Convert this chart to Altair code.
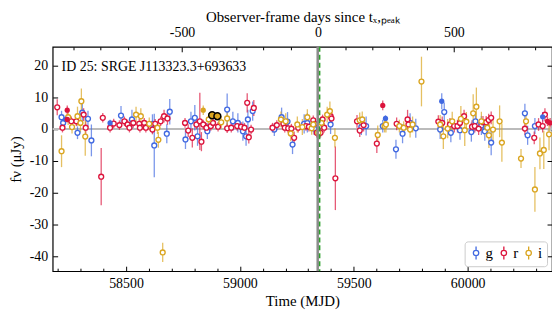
import altair as alt
import pandas as pd

FONT = "Liberation Serif"

# ---------------- data ----------------
g_mjd  = [58217, 58224, 58287, 58308, 58333, 58348, 58478, 58526, 58616, 58624, 58679, 58692,
          58761, 58785, 58802, 58814, 58857, 58944, 58969, 58991, 59013, 59027, 59035, 59056,
          59151, 59183, 59209, 59231, 59282, 59296, 59326, 59398, 59533, 59554, 59627, 59685,
          59714, 59747, 59772, 59879, 59897, 59926, 59966, 60016, 60034, 60060, 60075, 60103,
          60251, 60263, 60295]
g_flux = [3.7, 1.9, -1.2, 5.1, 3.2, -3.6, 4.2, 3.0, 1.6, -5.2, -1.5, 5.4,
          -3.3, 2.4, 3.5, -2.3, -0.7, 6.1, 2.4, 1.9, -0.7, -2.3, 3.0, 5.6,
          -0.2, 3.7, 2.3, -4.9, 1.6, 1.9, 0.1, 1.4, 0.6, 0.9, 0.9, -6.4,
          -1.5, 1.9, 0.2, -0.2, 5.3, -1.2, -0.4, -1.0, 2.4, 1.1, -0.7, -4.3,
          4.9, -2.0, 0.9]
g_err  = [2, 2, 2, 3, 2.5, 5, 3, 3, 3, 10, 3, 4,
          3, 3, 4, 3, 2.5, 5, 3, 3, 3, 3, 3, 3,
          2, 3, 3, 3, 3, 3, 2, 3, 2.5, 3, 2, 3,
          3, 3, 3, 3, 3, 3, 3, 3, 3, 3, 3, 4,
          3, 3, 2.5]

r_mjd  = [58198, 58221, 58260, 58282, 58314, 58323, 58391, 58398, 58430, 58446, 58471, 58493,
          58507, 58515, 58532, 58558, 58561, 58580, 58587, 58616, 58628, 58652, 58667, 58682,
          58759, 58773, 58791, 58809, 58824, 58831, 58839, 58853, 58872, 58882, 58904, 58944,
          58962, 58988, 59005, 59020, 59032, 59039, 59049, 59061, 59143, 59162, 59191, 59197,
          59212, 59226, 59238, 59256, 59290, 59303, 59322, 59329, 59337, 59354, 59363, 59370,
          59398, 59402, 59419, 59514, 59526, 59543, 59601, 59688, 59736, 59740, 59871, 59888,
          59922, 59941, 59955, 59966, 59984, 60019, 60031, 60048, 60067, 60081, 60092, 60103,
          60251, 60292, 60311, 60329, 60339]
r_flux = [6.8, 0.4, 2.4, 2.4, 4.5, 0.4, -15.0, 3.5, 0.4, 1.7, 1.2, 2.4,
          1.4, 0.4, 1.9, 1.6, 0.4, 1.9, 0.4, -0.2, 1.6, 2.4, 4.0, 3.3,
          1.9, -0.5, -2.8, 1.4, 2.4, -4.0, 1.4, 0.4, 0.9, 1.9, 0.7, 0.2,
          0.4, 0.9, 0.7, 0.4, 8.2, -2.6, -0.2, 6.6, 0.4, 1.2, 1.6, 0.4,
          0.2, 0.1, -2.8, 0.4, 0.9, 0.7, 2.7, 1.6, -1.2, -1.2, 3.0, 0.4,
          4.0, 3.3, -15.5, 2.4, -0.5, 1.2, -4.6, 1.6, 3.0, 1.4, 2.3, 1.9,
          1.4, 0.9, 0.9, 1.9, 4.0, 0.7, 0.9, 0.1, 2.1, 2.1, 2.8, 3.5,
          0.1, -2.8, 1.4, 0.9, 4.5]
r_err  = [2.5, 1.5, 1.5, 1.5, 2, 2, 9, 1.5, 1.5, 1.5, 1.5, 1.5,
          1.5, 1.5, 1.5, 1.5, 1.5, 1.5, 1.5, 1.5, 1.5, 1.5, 2, 2,
          1.5, 2, 3, 1.5, 9, 3, 1.5, 1.5, 1.5, 1.5, 1.5, 1.5,
          1.5, 1.5, 1.5, 1.5, 3, 2, 1.5, 2.5, 1.5, 1.5, 1.5, 1.5,
          1.5, 1.5, 2, 1.5, 1.5, 1.5, 1.5, 1.5, 1.5, 1.5, 1.5, 1.5,
          2, 2, 10, 2, 2, 2, 3, 2, 3, 2, 2, 2,
          2, 2, 2, 2, 2, 2, 2, 2, 2, 2, 2, 2,
          2, 2, 2, 2, 2]

i_mjd  = [58217, 58246, 58263, 58287, 58304, 58300, 58321, 58544, 58565, 58602, 58638, 58642,
          58661, 58863, 58918, 58944, 59180, 59201, 59223, 59252, 59274, 59296, 59315, 59322,
          59344, 59358, 59383, 59395, 59417, 59526, 59537, 59605, 59635, 59641, 59700, 59719,
          59747, 59758, 59797, 59879, 59893, 59912, 59932, 59970, 59987, 59994, 60024, 60038,
          60060, 60086, 60093, 60111, 60140, 60150, 60234, 60256, 60295, 60317, 60334, 60357]
i_flux = [-7.0, 3.7, 0.6, 4.0, 8.7, 1.9, -2.4, 4.5, 4.0, 1.6, 0.4, -3.4,
          -38.8, 3.0, 2.1, 3.3, 3.0, 2.4, -1.4, 1.4, 0.6, 3.7, 0.2, 1.4,
          -1.2, 1.9, 4.5, 5.6, -2.8, 2.7, 3.0, -1.9, 0.9, 1.4, 0.9, 0.4,
          -0.2, 1.4, 14.9, 1.4, -2.3, 0.1, 2.4, 3.2, -0.4, 2.3, 4.9, 7.0,
          2.4, 0.4, -2.0, -0.2, 2.4, -4.3, -9.3, 2.4, -19.0, -7.7, -6.6, -1.7]
i_err  = [5, 2.5, 2, 3, 4, 3, 6, 2.5, 2.5, 2, 2, 2.5,
          3, 2, 2, 2.5, 2.5, 2.5, 2.5, 2.5, 2.5, 2.5, 2, 2,
          2, 2, 2.5, 3, 3, 2.5, 2.5, 3, 2, 2.5, 2, 2,
          2.5, 2.5, 7.8, 3, 4, 3, 3, 4, 5, 3, 6, 6,
          3, 3, 4, 4, 5, 6, 3, 3, 7, 5, 6, 5]

# filled (detection) points
gf_mjd, gf_flux, gf_err = [58235, 58430, 59639, 59886, 60329], [3.0, 1.9, 3.3, 8.7, 3.8], [1, 1, 1, 2.5, 1.5]
rf_mjd, rf_flux, rf_err = [58242, 58242, 59627, 60350, 60362], [5.9, 3.0, 7.4, 2.4, 1.9], [1.5, 1, 1.5, 1.5, 1.5]
if_mjd, if_flux, if_err = [58839], [5.9], [1.5]
# highlighted i-band points (black edge)
ih_mjd, ih_flux = [58878, 58901], [4.3, 4.0]

bands = ["g", "r", "i"]
band_colors = ["#4169e1", "#dc143c", "#daa520"]

peak_span = [59336, 59347]
peak_line = [59350]

x_domain = [58178, 60370]
y_domain = [-44.7, 25.8]
top_domain = [-976, 861]
x_ticks = list(range(58200, 60400, 100))     # labelled every 500
y_ticks = [-40, -30, -20, -10, 0, 10, 20]
top_ticks = list(range(-900, 900, 100))       # labelled every 500

label_text = "ID 25: SRGE J113323.3+693633"

W, H = 503, 226

# ---------------- tables ----------------
def table(b, m, f, e):
    return pd.DataFrame({"band": b, "mjd": m, "flux": f,
                         "lo": [a - c for a, c in zip(f, e)],
                         "hi": [a + c for a, c in zip(f, e)]})

open_df = pd.concat([table("g", g_mjd, g_flux, g_err),
                     table("r", r_mjd, r_flux, r_err),
                     table("i", i_mjd, i_flux, i_err)])
fill_df = pd.concat([table("g", gf_mjd, gf_flux, gf_err),
                     table("r", rf_mjd, rf_flux, rf_err),
                     table("i", if_mjd, if_flux, if_err)])
hl_df = pd.DataFrame({"mjd": ih_mjd, "flux": ih_flux})
all_err = pd.concat([open_df, fill_df])

xs = alt.Scale(domain=x_domain, nice=False, zero=False)
ys = alt.Scale(domain=y_domain, nice=False, zero=False)
cs = alt.Scale(domain=bands, range=band_colors)
ts = alt.Scale(domain=top_domain, nice=False, zero=False)

# inward ticks: negative tick length given as an expression, longer at labelled values
major_minor = {"condition": {"test": "datum.value % 500 === 0", "value": -5}, "value": -3}

x_axis = alt.Axis(orient="bottom", values=x_ticks, ticks=True, tickSize=major_minor,
                  tickColor="black", tickWidth=1, domain=False, grid=False,
                  labelFont=FONT, labelFontSize=14, labelColor="black", labelPadding=10,
                  labelExpr="datum.value % 500 === 0 ? '' + datum.value : ''", labelFlush=False,
                  title="Time (MJD)", titleFont=FONT, titleFontSize=15, titleFontWeight="normal",
                  titleColor="black", titlePadding=4)
y_axis = alt.Axis(orient="left", values=y_ticks, ticks=True, tickSize={"expr": "-5"},
                  tickColor="black", tickWidth=1, domain=False, grid=False,
                  labelFont=FONT, labelFontSize=14, labelColor="black", labelPadding=10,
                  labelExpr="'' + datum.value",
                  title="fν (μJy)", titleFont=FONT, titleFontSize=15, titleFontWeight="normal",
                  titleColor="black", titlePadding=6)
top_axis = alt.Axis(orient="top", values=top_ticks, ticks=True, tickSize=major_minor,
                    tickColor="black", tickWidth=1, domain=False, grid=False,
                    labelFont=FONT, labelFontSize=14, labelColor="black", labelPadding=12,
                    labelExpr="datum.value % 500 === 0 ? '' + datum.value : ''", labelFlush=False,
                    title="Observer-frame days since tₓ,ₚₑₐₖ", titleFont=FONT, titleFontSize=15,
                    titleFontWeight="normal", titleColor="black", titlePadding=2)

def X(f="mjd"):
    return alt.X(f + ":Q", scale=xs, axis=x_axis)

def Y(f="flux"):
    return alt.Y(f + ":Q", scale=ys, axis=y_axis)

zero = alt.Chart(pd.DataFrame({"flux": [0]})).mark_rule(color="#bbbbbb", strokeWidth=2).encode(y=Y())

err_layers = [
    alt.Chart(all_err).transform_filter(alt.datum.band == b).mark_rule(
        color=c, strokeWidth=1.3, opacity=0.7).encode(x=X(), y=Y("lo"), y2="hi:Q")
    for b, c in zip(bands, band_colors)
]
fill_layers = [
    alt.Chart(fill_df).transform_filter(alt.datum.band == b).mark_circle(
        color=c, size=28, opacity=1).encode(x=X(), y=Y())
    for b, c in zip(bands, band_colors)
]

PATH = "M0,-1L0,-0.42M0,0.42L0,1M-0.42,0A0.42,0.42,0,1,0,0.42,0A0.42,0.42,0,1,0,-0.42,0Z"
opens = alt.Chart(open_df).mark_point(size=24, strokeWidth=1.4, fill="white", fillOpacity=1, opacity=1).encode(
    x=X(), y=Y(),
    stroke=alt.Stroke("band:N", scale=cs,
                      legend=alt.Legend(orient="bottom-right", direction="horizontal", title=None,
                                        symbolType=PATH, symbolSize=169, symbolStrokeWidth=1.3,
                                        symbolFillColor="white", labelFont=FONT, labelFontSize=15,
                                        labelColor="black", fillColor="white", strokeColor="#cccccc",
                                        padding=4, cornerRadius=3, offset=5, columnPadding=3,
                                        labelOffset=2, symbolOpacity=1)))

hl = alt.Chart(hl_df).mark_point(filled=True, fill="#daa520", fillOpacity=1, stroke="black",
                                 strokeWidth=1.5, size=48, opacity=1).encode(x=X(), y=Y())

span = alt.Chart(pd.DataFrame({"mjd": [peak_span[0]], "mjd2": [peak_span[1]]})).mark_rect(
    color="#8c8c8c").encode(x=X(), x2="mjd2:Q")
pline = alt.Chart(pd.DataFrame({"mjd": peak_line})).mark_rule(
    color="#2ca02c", strokeDash=[5, 3], strokeWidth=1.5).encode(x=X())

txt = alt.Chart(pd.DataFrame({"t": [label_text]})).mark_text(
    align="left", baseline="alphabetic", font=FONT, fontSize=14, color="black").encode(
    text="t:N", x=alt.value(9), y=alt.value(24))

inner = alt.layer(zero, *err_layers, opens, *fill_layers, hl, span, pline, txt)

# second layer: top axis (own scale) and right-hand mirror ticks
right_axis = alt.Axis(orient="right", values=y_ticks, ticks=True, tickSize={"expr": "-5"},
                      tickColor="black", tickWidth=1, domain=False, grid=False, labels=False,
                      title=None)
top = alt.Chart(pd.DataFrame({"rel": top_domain, "flux": y_domain})).mark_point(opacity=0).encode(
    x=alt.X("rel:Q", scale=ts, axis=top_axis),
    y=alt.Y("flux:Q", scale=ys, axis=right_axis))

chart = alt.layer(inner, top).resolve_scale(x="independent", y="independent").properties(
    width=W, height=H,
    autosize=alt.AutoSizeParams(type="none"),
    padding={"left": 45, "top": 38, "right": 0, "bottom": 40},
    background="white").configure_view(stroke="black", strokeWidth=1.2)

chart.save("out.html", embed_options={"renderer": "svg", "actions": False})
